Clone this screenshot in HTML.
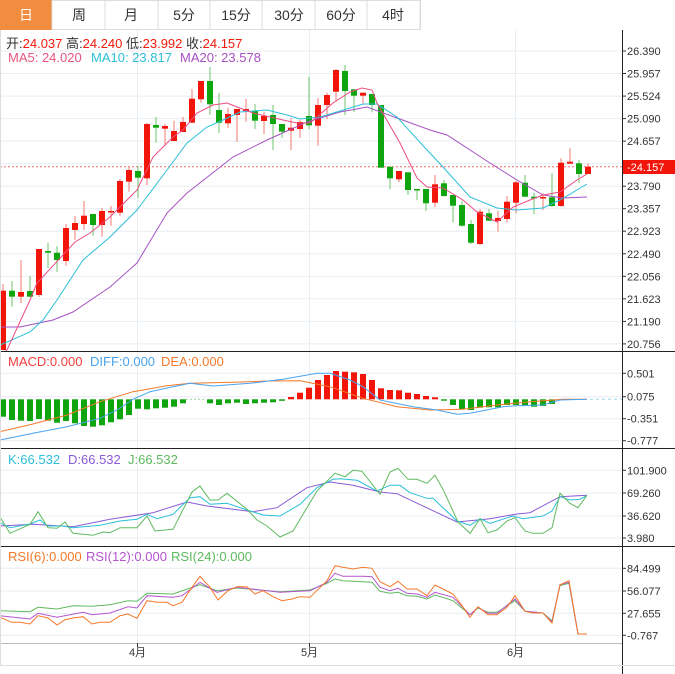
<!DOCTYPE html>
<html><head><meta charset="utf-8"><style>
html,body{margin:0;padding:0;background:#fff;}
svg{display:block;font-family:"Liberation Sans","Noto Sans CJK SC",sans-serif;}
</style></head><body>
<svg width="675" height="674" viewBox="0 0 675 674" xmlns="http://www.w3.org/2000/svg">
<rect x="0.5" y="0.5" width="420" height="29" fill="#fff" stroke="#ddd"/>
<rect x="0" y="0" width="52" height="30" fill="#f28c3e"/>
<g stroke="#ddd"><line x1="105" y1="0" x2="105" y2="30"/><line x1="158" y1="0" x2="158" y2="30"/><line x1="210" y1="0" x2="210" y2="30"/><line x1="262" y1="0" x2="262" y2="30"/><line x1="315" y1="0" x2="315" y2="30"/><line x1="367" y1="0" x2="367" y2="30"/><line x1="420" y1="0" x2="420" y2="30"/><line x1="52" y1="0" x2="52" y2="30"/></g>
<g font-size="14" text-anchor="middle" fill="#333">
<text x="26" y="20" fill="#fff">日</text><text x="79" y="20">周</text><text x="131" y="20">月</text><text x="184" y="20">5分</text><text x="236" y="20">15分</text><text x="289" y="20">30分</text><text x="341" y="20">60分</text><text x="393" y="20">4时</text>
</g>
<g stroke="#e8eef2" stroke-width="1">
<line x1="0" y1="51" x2="622" y2="51"/><line x1="0" y1="73.5" x2="622" y2="73.5"/><line x1="0" y1="96.1" x2="622" y2="96.1"/><line x1="0" y1="118.6" x2="622" y2="118.6"/><line x1="0" y1="141.1" x2="622" y2="141.1"/><line x1="0" y1="163.7" x2="622" y2="163.7"/><line x1="0" y1="186.2" x2="622" y2="186.2"/><line x1="0" y1="208.7" x2="622" y2="208.7"/><line x1="0" y1="231.2" x2="622" y2="231.2"/><line x1="0" y1="253.8" x2="622" y2="253.8"/><line x1="0" y1="276.3" x2="622" y2="276.3"/><line x1="0" y1="298.8" x2="622" y2="298.8"/><line x1="0" y1="321.4" x2="622" y2="321.4"/><line x1="0" y1="343.9" x2="622" y2="343.9"/>
<line x1="0" y1="373.3" x2="622" y2="373.3"/><line x1="0" y1="396.7" x2="622" y2="396.7"/><line x1="0" y1="418.7" x2="622" y2="418.7"/><line x1="0" y1="440.7" x2="622" y2="440.7"/>
<line x1="0" y1="470.3" x2="622" y2="470.3"/><line x1="0" y1="493" x2="622" y2="493"/><line x1="0" y1="516" x2="622" y2="516"/><line x1="0" y1="538" x2="622" y2="538"/>
<line x1="0" y1="568.3" x2="622" y2="568.3"/><line x1="0" y1="591" x2="622" y2="591"/><line x1="0" y1="613.3" x2="622" y2="613.3"/><line x1="0" y1="635.3" x2="622" y2="635.3"/>
<line x1="137.5" y1="30" x2="137.5" y2="643"/><line x1="309.5" y1="30" x2="309.5" y2="643"/><line x1="515.5" y1="30" x2="515.5" y2="643"/>
</g>
<g font-size="13">
<text x="6" y="48" fill="#333">开:<tspan fill="#f21a0a">24.037</tspan>  高:<tspan fill="#f21a0a">24.240</tspan>  低:<tspan fill="#f21a0a">23.992</tspan>  收:<tspan fill="#f21a0a">24.157</tspan></text>
<text x="8" y="62" fill="#e8557f">MA5: 24.020</text><text x="91" y="62" fill="#2bbfd8">MA10: 23.817</text><text x="180" y="62" fill="#a651c2">MA20: 23.578</text>
<text x="8" y="366" fill="#f23d3d">MACD:0.000</text><text x="90" y="366" fill="#4aa3ef">DIFF:0.000</text><text x="161" y="366" fill="#f5792a">DEA:0.000</text>
<text x="8" y="464" fill="#2bbfd8">K:66.532</text><text x="68" y="464" fill="#8a5bd6">D:66.532</text><text x="128" y="464" fill="#5fba5f">J:66.532</text>
<text x="8" y="561" fill="#f5792a">RSI(6):0.000</text><text x="86" y="561" fill="#b555d0">RSI(12):0.000</text><text x="171" y="561" fill="#5fba5f">RSI(24):0.000</text>
</g>
<line x1="0" y1="166.7" x2="622" y2="166.7" stroke="#f56b6b" stroke-dasharray="2,2" stroke-width="1"/>
<g stroke-width="1">
<g stroke="#f47a72">
<line x1="3" y1="284" x2="3" y2="350"/><line x1="21" y1="260" x2="21" y2="303"/><line x1="39" y1="249" x2="39" y2="297"/><line x1="66" y1="224" x2="66" y2="265.7"/><line x1="75" y1="216" x2="75" y2="240"/><line x1="84" y1="201" x2="84" y2="230"/><line x1="102" y1="208" x2="102" y2="236.7"/><line x1="111" y1="206" x2="111" y2="225.7"/><line x1="120" y1="179" x2="120" y2="216"/><line x1="129" y1="166.7" x2="129" y2="191.7"/><line x1="147" y1="123" x2="147" y2="185"/><line x1="165" y1="124" x2="165" y2="146"/><line x1="174" y1="120.7" x2="174" y2="141"/><line x1="183" y1="117" x2="183" y2="132"/><line x1="192" y1="89" x2="192" y2="123"/><line x1="201" y1="81" x2="201" y2="102.7"/><line x1="228" y1="107.7" x2="228" y2="127.7"/><line x1="237" y1="109" x2="237" y2="142"/><line x1="246" y1="99" x2="246" y2="121.7"/><line x1="264" y1="111.7" x2="264" y2="134"/><line x1="291" y1="118" x2="291" y2="150"/><line x1="300" y1="120" x2="300" y2="137.7"/><line x1="318" y1="98" x2="318" y2="145.7"/><line x1="327" y1="92.7" x2="327" y2="119.3"/><line x1="336" y1="69" x2="336" y2="101.7"/><line x1="363" y1="92.7" x2="363" y2="103.3"/><line x1="399" y1="171" x2="399" y2="182.3"/><line x1="435" y1="175" x2="435" y2="207.3"/><line x1="480" y1="209" x2="480" y2="245"/><line x1="498" y1="210.7" x2="498" y2="231.7"/><line x1="507" y1="196" x2="507" y2="222.7"/><line x1="516" y1="180.7" x2="516" y2="213.3"/><line x1="543" y1="193.3" x2="543" y2="210"/><line x1="561" y1="158.3" x2="561" y2="206.7"/><line x1="570" y1="148.3" x2="570" y2="163.7"/><line x1="588" y1="163.3" x2="588" y2="174"/>
</g>
<g stroke="#6cc46c">
<line x1="12" y1="281" x2="12" y2="306.7"/><line x1="30" y1="276" x2="30" y2="297"/><line x1="48" y1="242.7" x2="48" y2="268"/><line x1="57" y1="246" x2="57" y2="271.7"/><line x1="93" y1="214" x2="93" y2="235.7"/><line x1="138" y1="166" x2="138" y2="198"/><line x1="156" y1="117" x2="156" y2="142.7"/><line x1="210" y1="67" x2="210" y2="115"/><line x1="219" y1="93" x2="219" y2="133"/><line x1="255" y1="104" x2="255" y2="129"/><line x1="273" y1="105" x2="273" y2="150"/><line x1="282" y1="124" x2="282" y2="137.7"/><line x1="309" y1="76.7" x2="309" y2="129.3"/><line x1="345" y1="65" x2="345" y2="115"/><line x1="354" y1="89" x2="354" y2="112"/><line x1="372" y1="94" x2="372" y2="112.3"/><line x1="390" y1="166.7" x2="390" y2="189.3"/><line x1="408" y1="172.3" x2="408" y2="195"/><line x1="417" y1="189" x2="417" y2="200"/><line x1="426" y1="189" x2="426" y2="210.7"/><line x1="444" y1="180" x2="444" y2="196.7"/><line x1="453" y1="195" x2="453" y2="222.3"/><line x1="462" y1="200.7" x2="462" y2="226.7"/><line x1="471" y1="220" x2="471" y2="244"/><line x1="489" y1="209" x2="489" y2="221"/><line x1="525" y1="175" x2="525" y2="197.3"/><line x1="534" y1="192.7" x2="534" y2="214.3"/><line x1="552" y1="173.3" x2="552" y2="206.7"/><line x1="579" y1="160" x2="579" y2="182.7"/>
</g>
<g fill="#f2160a">
<rect x="0" y="290.7" width="6" height="59.3"/><rect x="18" y="292" width="6" height="4.7"/><rect x="36" y="249" width="6" height="46"/><rect x="63" y="228" width="6" height="33"/><rect x="72" y="223" width="6" height="7"/><rect x="81" y="215.7" width="6" height="8.3"/><rect x="99" y="211" width="6" height="14"/><rect x="108" y="211" width="6" height="1.5"/><rect x="117" y="181" width="6" height="31.7"/><rect x="126" y="170" width="6" height="11.7"/><rect x="144" y="124" width="6" height="54.3"/><rect x="162" y="126" width="6" height="2.7"/><rect x="171" y="131" width="6" height="10"/><rect x="180" y="122" width="6" height="10"/><rect x="189" y="98.7" width="6" height="24"/><rect x="198" y="81" width="6" height="18.3"/><rect x="225" y="114" width="6" height="9.3"/><rect x="234" y="109" width="6" height="6"/><rect x="243" y="109" width="6" height="2"/><rect x="261" y="116" width="6" height="5"/><rect x="288" y="127.7" width="6" height="3"/><rect x="297" y="122" width="6" height="7"/><rect x="315" y="105" width="6" height="20.7"/><rect x="324" y="95" width="6" height="10"/><rect x="333" y="70" width="6" height="21.7"/><rect x="360" y="92.7" width="6" height="3"/><rect x="396" y="171" width="6" height="8.3"/><rect x="432" y="184.3" width="6" height="18.4"/><rect x="477" y="211.7" width="6" height="32.3"/><rect x="495" y="218" width="6" height="3"/><rect x="504" y="201.7" width="6" height="17.3"/><rect x="513" y="182.3" width="6" height="20.4"/><rect x="540" y="197" width="6" height="1.5"/><rect x="558" y="162.7" width="6" height="43.3"/><rect x="567" y="161.7" width="6" height="2"/><rect x="585" y="166.7" width="6" height="7.3"/>
</g>
<g fill="#0ea50e">
<rect x="9" y="290.7" width="6" height="6"/><rect x="27" y="291" width="6" height="5.7"/><rect x="45" y="251" width="6" height="1.7"/><rect x="54" y="252.7" width="6" height="7.3"/><rect x="90" y="214" width="6" height="11"/><rect x="135" y="171" width="6" height="6.7"/><rect x="153" y="125" width="6" height="2.7"/><rect x="207" y="81" width="6" height="23.3"/><rect x="216" y="110" width="6" height="12.7"/><rect x="252" y="110.7" width="6" height="10"/><rect x="270" y="115" width="6" height="9"/><rect x="279" y="124" width="6" height="7.7"/><rect x="306" y="116" width="6" height="9.3"/><rect x="342" y="71" width="6" height="20"/><rect x="351" y="89.3" width="6" height="6.4"/><rect x="369" y="94" width="6" height="11"/><rect x="378" y="105" width="6" height="62.7"/><rect x="387" y="166.7" width="6" height="11.6"/><rect x="405" y="172.3" width="6" height="17.7"/><rect x="414" y="189" width="6" height="1.5"/><rect x="423" y="189" width="6" height="14.3"/><rect x="441" y="183.3" width="6" height="12.7"/><rect x="450" y="195" width="6" height="10.7"/><rect x="459" y="205" width="6" height="20.7"/><rect x="468" y="224" width="6" height="18.7"/><rect x="486" y="213.3" width="6" height="7.4"/><rect x="522" y="182.7" width="6" height="14"/><rect x="531" y="196.7" width="6" height="1.6"/><rect x="549" y="197.3" width="6" height="8.7"/><rect x="576" y="163.3" width="6" height="10.7"/>
</g>
</g>
<g fill="none" stroke-width="1">
<polyline stroke="#a651c2" points="0,327 20,327 53,320 73,312 110,287 137,263 167,213 187,193 210,175 233,157 267,140 307,122 340,112 367,107 397,118 430,130 447,135 490,163 517,180 543,195 563,198 587,197"/>
<polyline stroke="#2bbfd8" points="0,345 30,332 43,320 57,300 83,260 110,237 137,210 167,170 187,143 207,127 223,120 240,112 267,110 287,115 300,119 320,117 340,111 363,104 377,104 397,117 427,150 443,167 470,197 497,208 517,210 543,208 560,200 587,184"/>
<polyline stroke="#ec4d80" points="5,352 7,350 30,300 37,283 75,242 90,233 110,217 137,190 153,157 173,137 183,130 197,113 213,105 227,103 237,107 253,113 283,120 297,123 310,123 333,103 350,92 362,88 372,90 377,103 400,143 417,178 427,187 443,188 463,200 477,212 497,222 513,207 530,200 543,195 560,192 577,180 587,174"/>
</g>
<g fill="#0ea50e">
<rect x="0" y="399.3" width="6" height="17.4"/><rect x="9" y="399.3" width="6" height="20.7"/><rect x="18" y="399.3" width="6" height="21.4"/><rect x="27" y="399.3" width="6" height="21.7"/><rect x="36" y="399.3" width="6" height="19.7"/><rect x="45" y="399.3" width="6" height="21.4"/><rect x="54" y="399.3" width="6" height="23.4"/><rect x="63" y="399.3" width="6" height="21.7"/><rect x="72" y="399.3" width="6" height="24"/><rect x="81" y="399.3" width="6" height="26.7"/><rect x="90" y="399.3" width="6" height="27.4"/><rect x="99" y="399.3" width="6" height="26"/><rect x="108" y="399.3" width="6" height="23"/><rect x="117" y="399.3" width="6" height="20"/><rect x="126" y="399.3" width="6" height="15.7"/><rect x="135" y="399.3" width="6" height="9.4"/><rect x="144" y="399.3" width="6" height="10"/><rect x="153" y="399.3" width="6" height="9"/><rect x="162" y="399.3" width="6" height="8.4"/><rect x="171" y="399.3" width="6" height="7.4"/><rect x="180" y="399.3" width="6" height="4"/>
<rect x="207" y="399.3" width="6" height="4"/><rect x="216" y="399.3" width="6" height="5.7"/><rect x="225" y="399.3" width="6" height="4"/><rect x="234" y="399.3" width="6" height="3.4"/><rect x="243" y="399.3" width="6" height="4.7"/><rect x="252" y="399.3" width="6" height="4"/><rect x="261" y="399.3" width="6" height="3.4"/><rect x="270" y="399.3" width="6" height="3"/><rect x="279" y="399.3" width="6" height="1.5"/>
<rect x="441" y="399.3" width="6" height="1.4"/><rect x="450" y="399.3" width="6" height="5.7"/><rect x="459" y="399.3" width="6" height="10"/><rect x="468" y="399.3" width="6" height="10.7"/><rect x="477" y="399.3" width="6" height="8.4"/><rect x="486" y="399.3" width="6" height="8"/><rect x="495" y="399.3" width="6" height="8"/><rect x="504" y="399.3" width="6" height="5.7"/><rect x="513" y="399.3" width="6" height="5.7"/><rect x="522" y="399.3" width="6" height="5.7"/><rect x="531" y="399.3" width="6" height="7.4"/><rect x="540" y="399.3" width="6" height="6.7"/><rect x="549" y="399.3" width="6" height="4.7"/>
</g>
<g fill="#f2160a">
<rect x="288" y="397" width="6" height="2.3"/><rect x="297" y="392.7" width="6" height="6.6"/><rect x="306" y="387.7" width="6" height="11.6"/><rect x="315" y="380" width="6" height="19.3"/><rect x="324" y="375" width="6" height="24.3"/><rect x="333" y="371" width="6" height="28.3"/><rect x="342" y="371.7" width="6" height="27.6"/><rect x="351" y="372.3" width="6" height="27"/><rect x="360" y="374" width="6" height="25.3"/><rect x="369" y="380" width="6" height="19.3"/><rect x="378" y="388.3" width="6" height="11"/><rect x="387" y="390" width="6" height="9.3"/><rect x="396" y="390.3" width="6" height="9"/><rect x="405" y="392.7" width="6" height="6.6"/><rect x="414" y="394" width="6" height="5.3"/><rect x="423" y="396" width="6" height="3.3"/><rect x="432" y="397.3" width="6" height="2"/>
</g>
<line x1="186" y1="399.3" x2="206" y2="399.3" stroke="#9ed49e" stroke-dasharray="2,2"/>
<line x1="590" y1="399.3" x2="622" y2="399.3" stroke="#9fd6e8" stroke-dasharray="3,3"/>
<g fill="none" stroke-width="1">
<polyline stroke="#f5792a" points="0,431.7 33,424 67,415 100,401.7 133,391.7 167,385.7 190,383.3 233,382.3 267,381 300,380.7 330,386.7 363,398.3 397,406.7 430,410 463,409.3 497,405 530,401.7 563,399.3 587,399.3"/>
<polyline stroke="#4aa3ef" points="0,440 33,433.3 67,426.7 100,418.3 117,410 133,399.3 150,391.7 173,386.7 190,383.3 213,386 250,383.3 283,379.3 317,373.3 330,373.3 350,380 363,386.7 380,400 413,406.7 437,410 457,414.3 470,413.3 503,406.7 517,405.7 543,405 560,400 587,399.3"/>
</g>
<g fill="none" stroke-width="1">
<polyline stroke="#8a5bd6" points="0,526 33,524.3 73,526.7 110,519.3 153,512.7 187,502 207,506 233,509.3 253,511.7 277,507.7 307,487.7 330,482 353,485.3 380,492 397,493.7 430,509.3 457,522 490,518.7 517,514 530,512.7 560,496.7 587,495.3"/>
<polyline stroke="#2bbfd8" points="0,522.7 10,527.7 30,524 40,520 47,526 63,526 73,527.7 100,525.3 120,521 137,519.3 147,514.3 157,518.7 173,514.3 190,497.7 200,496.7 210,504.3 227,503.3 247,510 263,515 280,516 300,504.3 317,487.7 333,479.3 340,478.7 357,480.3 377,491 390,485.3 400,485.3 410,492.7 427,498.3 433,498.3 457,521 470,525.3 480,518.7 490,523.3 513,516 523,518.7 543,516 552,511 560,496.7 570,500 580,499.3 587,495.3"/>
<polyline stroke="#5fba5f" points="0,517 10,533.3 30,524.3 38,511.7 48,527.7 57,528.3 65,522 73,533.3 93,535.3 103,532 110,532.7 120,527.7 137,527.7 147,516 155,531 173,529.3 192,492 200,486 210,500 218,500 227,493.3 247,509.3 257,520 267,526 280,537 293,531 317,491 335,473.3 340,475 345,476.7 353,470.3 362,471.3 380,494.3 390,472 398,468.3 408,479.3 417,479.3 427,483.3 435,475.3 443,489.3 458,522 470,533.3 480,518.7 488,532.7 497,530 507,521 515,517.7 525,531 533,533.3 543,533.3 552,527.7 560,493.3 570,503.3 578,507.7 587,495.3"/>
</g>
<g fill="none" stroke-width="1">
<polyline stroke="#5fba5f" points="0,610.7 30,611.7 38,607.3 57,609 73,605.7 92,606.3 110,604.7 128,600.7 137,601.3 147,593.3 173,594 200,584.7 217,590.7 237,588 280,591.7 310,590 327,583.3 335,579 343,580.7 372,582.3 380,591.3 390,593.3 398,592.3 407,595.7 417,596.3 427,599 435,595 453,600.7 470,614.7 478,608 488,612.3 497,612.3 515,600.7 525,611.3 543,613 552,620.7 560,585.7 569,583.3 578,634 587,634"/>
<polyline stroke="#b555d0" points="0,615.7 30,619 38,613.3 57,617.3 83,612.3 92,614.7 110,613 128,606.7 137,608 147,595.7 173,597.3 182,595.7 200,582.3 217,592.3 237,587.3 280,592.3 310,590.7 327,582.3 335,573.3 343,576.3 363,576.3 372,576.7 380,587.3 390,590.7 398,588.3 407,593.3 417,594 427,597.3 435,592.3 453,597.3 470,614.7 478,607.3 488,613.3 497,613.3 515,599 525,611.3 543,613 552,621.7 560,584.7 569,582.3 578,634 587,634"/>
<polyline stroke="#f5792a" points="0,617.3 11.7,622.3 20,622.3 30,624 38,615.7 48,618 57,625 65,619.7 73,618 83,616.7 92,624 100,622.3 110,622.3 120,615.7 128,614 137,618.3 147,600.7 157,602.3 167,602.3 173,605.7 182,602.3 192,587.3 200,576.3 210,587.3 218,600 228,590.7 237,586.7 247,586.7 255,594 263,590.7 273,596.7 282,600.7 292,599 300,596.7 310,597.3 327,580.7 335,565.7 343,567.3 353,569 363,567.3 372,568.3 380,581.7 390,586.7 398,581.3 407,589 417,589 427,595.7 435,585 443,589 453,594 462,605.7 470,617.3 478,606.7 488,614.7 497,614.7 507,607.3 515,595.7 525,611.3 533,613 543,613 552,623 560,584.7 569,580.7 578,634 587,634"/>
</g>
<g stroke="#222" stroke-width="1">
<line x1="0" y1="351.5" x2="675" y2="351.5"/><line x1="0" y1="448.5" x2="675" y2="448.5"/><line x1="0" y1="546.5" x2="675" y2="546.5"/>
<line x1="622.5" y1="30" x2="622.5" y2="674"/>
</g>
<line x1="0" y1="643.5" x2="622" y2="643.5" stroke="#bbb"/>
<line x1="0" y1="665.5" x2="675" y2="665.5" stroke="#ddd"/>
<line x1="0.5" y1="30" x2="0.5" y2="666" stroke="#ddd"/>
<g stroke="#333">
<line x1="622" y1="51" x2="626" y2="51"/><line x1="622" y1="73.5" x2="626" y2="73.5"/><line x1="622" y1="96.1" x2="626" y2="96.1"/><line x1="622" y1="118.6" x2="626" y2="118.6"/><line x1="622" y1="141.1" x2="626" y2="141.1"/><line x1="622" y1="186.2" x2="626" y2="186.2"/><line x1="622" y1="208.7" x2="626" y2="208.7"/><line x1="622" y1="231.2" x2="626" y2="231.2"/><line x1="622" y1="253.8" x2="626" y2="253.8"/><line x1="622" y1="276.3" x2="626" y2="276.3"/><line x1="622" y1="298.8" x2="626" y2="298.8"/><line x1="622" y1="321.4" x2="626" y2="321.4"/><line x1="622" y1="343.9" x2="626" y2="343.9"/>
<line x1="622" y1="373.3" x2="626" y2="373.3"/><line x1="622" y1="396.7" x2="626" y2="396.7"/><line x1="622" y1="418.7" x2="626" y2="418.7"/><line x1="622" y1="440.7" x2="626" y2="440.7"/>
<line x1="622" y1="470.3" x2="626" y2="470.3"/><line x1="622" y1="493" x2="626" y2="493"/><line x1="622" y1="516" x2="626" y2="516"/><line x1="622" y1="538" x2="626" y2="538"/>
<line x1="622" y1="568.3" x2="626" y2="568.3"/><line x1="622" y1="591" x2="626" y2="591"/><line x1="622" y1="613.3" x2="626" y2="613.3"/><line x1="622" y1="635.3" x2="626" y2="635.3"/>
<line x1="137.5" y1="643" x2="137.5" y2="647"/><line x1="309.5" y1="643" x2="309.5" y2="647"/><line x1="515.5" y1="643" x2="515.5" y2="647"/>
</g>
<g font-size="11" fill="#333">
<text x="627" y="55">26.390</text><text x="627" y="77.5">25.957</text><text x="627" y="100">25.524</text><text x="627" y="122.6">25.090</text><text x="627" y="145">24.657</text><text x="627" y="190">23.790</text><text x="627" y="212.7">23.357</text><text x="627" y="235">22.923</text><text x="627" y="257.8">22.490</text><text x="627" y="280.3">22.056</text><text x="627" y="302.8">21.623</text><text x="627" y="325.4">21.190</text><text x="627" y="347.9">20.756</text>
<text x="627" y="377.3">0.501</text><text x="627" y="400.7">0.075</text><text x="627" y="422.7">-0.351</text><text x="627" y="444.7">-0.777</text>
<text x="627" y="474.3">101.900</text><text x="627" y="497">69.260</text><text x="627" y="520">36.620</text><text x="627" y="542">3.980</text>
<text x="627" y="572.3">84.499</text><text x="627" y="595">56.077</text><text x="627" y="617.3">27.655</text><text x="627" y="639.3">-0.767</text>
<text x="137.5" y="656" text-anchor="middle">4月</text><text x="309.5" y="656" text-anchor="middle">5月</text><text x="515.5" y="656" text-anchor="middle">6月</text>
</g>
<rect x="623" y="160" width="52" height="14" fill="#f2160a"/>
<text x="627" y="171" font-size="11" fill="#fff">-24.157</text>
</svg>
</body></html>
